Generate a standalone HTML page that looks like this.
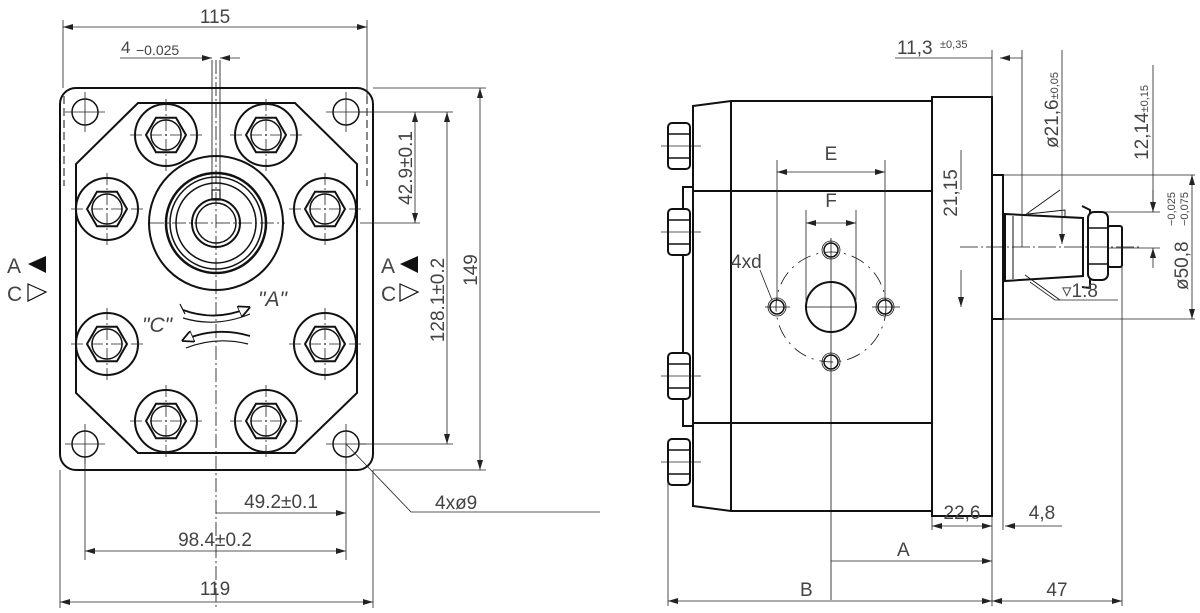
<!DOCTYPE html>
<html><head><meta charset="utf-8"><style>
html,body{margin:0;padding:0;background:#fff;}
svg{display:block}
text{font-family:"Liberation Sans",sans-serif;fill:#444;}
</style></head><body>
<svg width="1200" height="613" viewBox="0 0 1200 613" xmlns="http://www.w3.org/2000/svg">
<defs>
<marker id="ar" viewBox="0 0 10 6" refX="10" refY="3" markerWidth="10" markerHeight="6" orient="auto-start-reverse" markerUnits="userSpaceOnUse"><path d="M0,0L10,3L0,6z" fill="#222"/></marker>
<marker id="ar2" viewBox="0 0 10 10" refX="8" refY="5" markerWidth="12" markerHeight="12" orient="auto" markerUnits="userSpaceOnUse"><path d="M0,0L10,5L0,10z" fill="#fff" stroke="#111" stroke-width="1.5"/></marker>
<g id="bolt"><circle r="31" fill="none" stroke="#111" stroke-width="2"/><polygon points="20,0 10,17.3 -10,17.3 -20,0 -10,-17.3 10,-17.3" fill="none" stroke="#111" stroke-width="2"/><circle r="15" fill="none" stroke="#111" stroke-width="1.5"/><path d="M-36,0H36M0,-36V36" stroke="#222" stroke-width="0.8" stroke-dasharray="12,3,2,3"/></g>
<g id="hole"><circle r="13" fill="none" stroke="#111" stroke-width="1.5"/><path d="M-20,0H20M0,-20V20" stroke="#222" stroke-width="0.8"/></g>
<g id="nut"><rect x="-11" y="-23" width="22" height="46" rx="4" fill="#fff" stroke="#111" stroke-width="2"/><path d="M-11,-12H11M-11,12H11" stroke="#111" stroke-width="1.5"/><path d="M-18,0H22" stroke="#222" stroke-width="0.8"/></g>
</defs>
<g stroke="#111" fill="none">
<rect x="60" y="88" width="313" height="382" rx="16" stroke-width="2"/>
<path d="M64,96V186M367,96V186" stroke-width="1" stroke-dasharray="8,4"/>
<polygon points="138,103 295,103 357,164 357,393 295,453 138,453 76,393 76,164" stroke-width="2"/>
<use href="#hole" x="85" y="112"/><use href="#hole" x="346" y="112"/><use href="#hole" x="85" y="444"/><use href="#hole" x="346" y="444"/>
<use href="#bolt" x="166" y="135"/><use href="#bolt" x="266" y="135"/>
<use href="#bolt" x="107" y="209"/><use href="#bolt" x="325" y="209"/>
<use href="#bolt" x="107" y="344"/><use href="#bolt" x="325" y="344"/>
<use href="#bolt" x="166" y="421"/><use href="#bolt" x="266" y="421"/>
<circle cx="216" cy="223" r="67" stroke-width="2"/>
<circle cx="216" cy="223" r="50" stroke-width="2.5"/>
<circle cx="216" cy="223" r="46" stroke-width="1.5"/>
<circle cx="216" cy="223" r="40" stroke-width="1.5"/>
<circle cx="216" cy="223" r="24" stroke-width="2"/>
<circle cx="216" cy="223" r="20" stroke-width="1.5"/>
<rect x="212" y="190" width="8" height="10" stroke-width="1.2"/>
<path d="M216,60V610M150,223H285" stroke-width="0.8" stroke-dasharray="14,3,2,3"/>
<path d="M212,60V190M220,60V190" stroke-width="0.8"/>
<path d="M183,310Q216,322 248,308" stroke-width="1.8" marker-end="url(#ar2)"/>
<path d="M185,314L180,304M183,318Q216,328 250,314" stroke-width="1.2"/>
<path d="M250,336Q216,326 184,340" stroke-width="1.8" marker-end="url(#ar2)"/>
<path d="M248,344Q216,336 186,348" stroke-width="1.2"/>
<text x="142" y="332" font-size="21" stroke="none" font-style="italic">"C"</text>
<text x="258" y="306" font-size="21" stroke="none" font-style="italic">"A"</text>
<g stroke-width="0.8" stroke="#222">
<path d="M63,20V88M367,20V96"/>
<path d="M63,27H367" marker-start="url(#ar)" marker-end="url(#ar)"/>
<path d="M120,58H202" /><path d="M202,58H212" marker-end="url(#ar)"/><path d="M240,58H220" marker-end="url(#ar)"/>
<path d="M373,88H486M360,112H453M360,223H420M373,470H486"/>
<path d="M480,88V470" marker-start="url(#ar)" marker-end="url(#ar)"/>
<path d="M447,112V444" marker-start="url(#ar)" marker-end="url(#ar)"/>
<path d="M415,112V223" marker-start="url(#ar)" marker-end="url(#ar)"/>
<path d="M360,444H453"/>
<path d="M85,456V560M346,456V560M60,470V608M373,470V608"/>
<path d="M216,513H346" marker-end="url(#ar)"/>
<path d="M85,551H346" marker-start="url(#ar)" marker-end="url(#ar)"/>
<path d="M60,602H373" marker-start="url(#ar)" marker-end="url(#ar)"/>
<path d="M346,444L411,512H600"/>
</g>
<polygon points="28,264 46,256 46,273" fill="#111" stroke="none"/>
<polygon points="46,292 28,284 28,301" stroke-width="1.2"/>
<polygon points="400,264 418,256 418,273" fill="#111" stroke="none"/>
<polygon points="418,292 400,284 400,301" stroke-width="1.2"/>

<path d="M693,106L731,101H932V511H731L693,506Z" stroke-width="2" fill="#fff"/>
<path d="M731,101V511M693,191H932M693,423H932" stroke-width="2"/>
<path d="M693,187H683V426H693" stroke-width="2"/>
<rect x="932" y="97" width="60" height="419" stroke-width="2"/>
<use href="#nut" x="679" y="146"/><use href="#nut" x="679" y="232"/><use href="#nut" x="679" y="376"/><use href="#nut" x="679" y="462"/>
<circle cx="831" cy="307" r="25" stroke-width="2"/>
<circle cx="831" cy="307" r="55" stroke-width="0.8" stroke-dasharray="14,6,2,6"/>
<g stroke-width="1.5"><circle cx="831" cy="250" r="7"/><circle cx="831" cy="250" r="9" stroke-width="0.8"/>
<circle cx="777" cy="307" r="7"/><circle cx="777" cy="307" r="9" stroke-width="0.8"/>
<circle cx="885" cy="307" r="7"/><circle cx="885" cy="307" r="9" stroke-width="0.8"/>
<circle cx="831" cy="362" r="7"/><circle cx="831" cy="362" r="9" stroke-width="0.8"/></g>
<path d="M831,238V600M806,307H856M765,307H790M872,307H900" stroke-width="0.8"/>
<rect x="992" y="175" width="11" height="144" stroke-width="2"/>
<path d="M1003,175V319" stroke-width="1"/>
<path d="M1005,214L1083,218V276L1005,281Z" stroke-width="2" fill="#fff"/>
<path d="M1013,216V279" stroke-width="1"/>
<path d="M1082,206L1090,210V288L1082,287" stroke-width="2"/>
<rect x="1088" y="212" width="20" height="68" rx="6" stroke-width="2" fill="#fff"/>
<path d="M1088,228H1108M1088,264H1108" stroke-width="1.5"/>
<rect x="1108" y="226" width="14" height="41" rx="2" stroke-width="2" fill="#fff"/>
<path d="M1060,190L1025,215M1060,300L1025,275M1028,214L1065,210V216" stroke-width="0.9"/>
<path d="M960,247H1140" stroke-width="0.8" stroke-dasharray="18,3,2,3"/>
<g stroke-width="0.8" stroke="#222">
<path d="M777,160V300M885,160V300"/>
<path d="M777,172H885" marker-start="url(#ar)" marker-end="url(#ar)"/>
<path d="M806,210V300M856,210V300"/>
<path d="M806,223H856" marker-start="url(#ar)" marker-end="url(#ar)"/>
<path d="M961,270V307" marker-end="url(#ar)"/>
<path d="M961,150V190"/>
<path d="M760,270L772,300"/>
<path d="M895,58H992"/><path d="M1000,58H1022" marker-start="url(#ar)"/>
<path d="M992,50V97M1022,50V247"/>
<path d="M1062,50V244" marker-end="url(#ar)"/>
<path d="M1153,65V212"/><path d="M1153,190V212" marker-end="url(#ar)"/><path d="M1153,268V248" marker-end="url(#ar)"/>
<path d="M1003,175H1195M1003,319H1195M1090,212H1160M1108,248H1160"/>
<path d="M1192,175V319" marker-start="url(#ar)" marker-end="url(#ar)"/>
<path d="M1030,282L1055,300H1118"/>
<path d="M932,516V530M992,516V606M1003,319V530M1122,267V606M668,470V606"/>
<path d="M932,526H992" marker-start="url(#ar)" marker-end="url(#ar)"/>
<path d="M1005,526H1062" marker-start="url(#ar)"/>
<path d="M831,561H992" marker-end="url(#ar)"/>
<path d="M668,601H992" marker-start="url(#ar)" marker-end="url(#ar)"/>
<path d="M992,601H1122" marker-start="url(#ar)" marker-end="url(#ar)"/>
</g>
</g>
<g stroke="none" font-size="19">
<text x="215" y="23" text-anchor="middle">115</text>
<text x="121" y="53" font-size="17">4</text><text x="136" y="55" font-size="14">−0.025</text>
<text transform="translate(412,168) rotate(-90)" text-anchor="middle">42.9±0.1</text>
<text transform="translate(444,300) rotate(-90)" text-anchor="middle">128.1±0.2</text>
<text transform="translate(477,270) rotate(-90)" text-anchor="middle">149</text>
<text x="281" y="508" text-anchor="middle">49.2±0.1</text>
<text x="215" y="546" text-anchor="middle">98.4±0.2</text>
<text x="215" y="595" text-anchor="middle">119</text>
<text x="435" y="509">4xø9</text>
<text x="7" y="273" font-size="21">A</text><text x="7" y="301" font-size="21">C</text>
<text x="381" y="273" font-size="21">A</text><text x="381" y="301" font-size="21">C</text>
<text x="831" y="160" text-anchor="middle">E</text>
<text x="831" y="207" text-anchor="middle">F</text>
<text x="731" y="268">4xd</text>
<text transform="translate(957,193) rotate(-90)" text-anchor="middle">21,15</text>
<text x="897" y="54">11,3</text><text x="940" y="48" font-size="11">±0,35</text>
<text transform="translate(1058,148) rotate(-90)">ø21,6<tspan font-size="11">±0,05</tspan></text>
<text transform="translate(1148,160) rotate(-90)">12,14<tspan font-size="11">±0,15</tspan></text>
<text transform="translate(1188,290) rotate(-90)">ø50,8</text>
<text transform="translate(1175,226) rotate(-90)" font-size="11">−0,025</text>
<text transform="translate(1188,226) rotate(-90)" font-size="11">−0,075</text>
<text x="1062" y="297">▿1:8</text>
<text x="962" y="519" text-anchor="middle">22,6</text>
<text x="1042" y="519" text-anchor="middle">4,8</text>
<text x="897" y="556">A</text>
<text x="800" y="596">B</text>
<text x="1057" y="596" text-anchor="middle">47</text>
</g>
</svg>
</body></html>
